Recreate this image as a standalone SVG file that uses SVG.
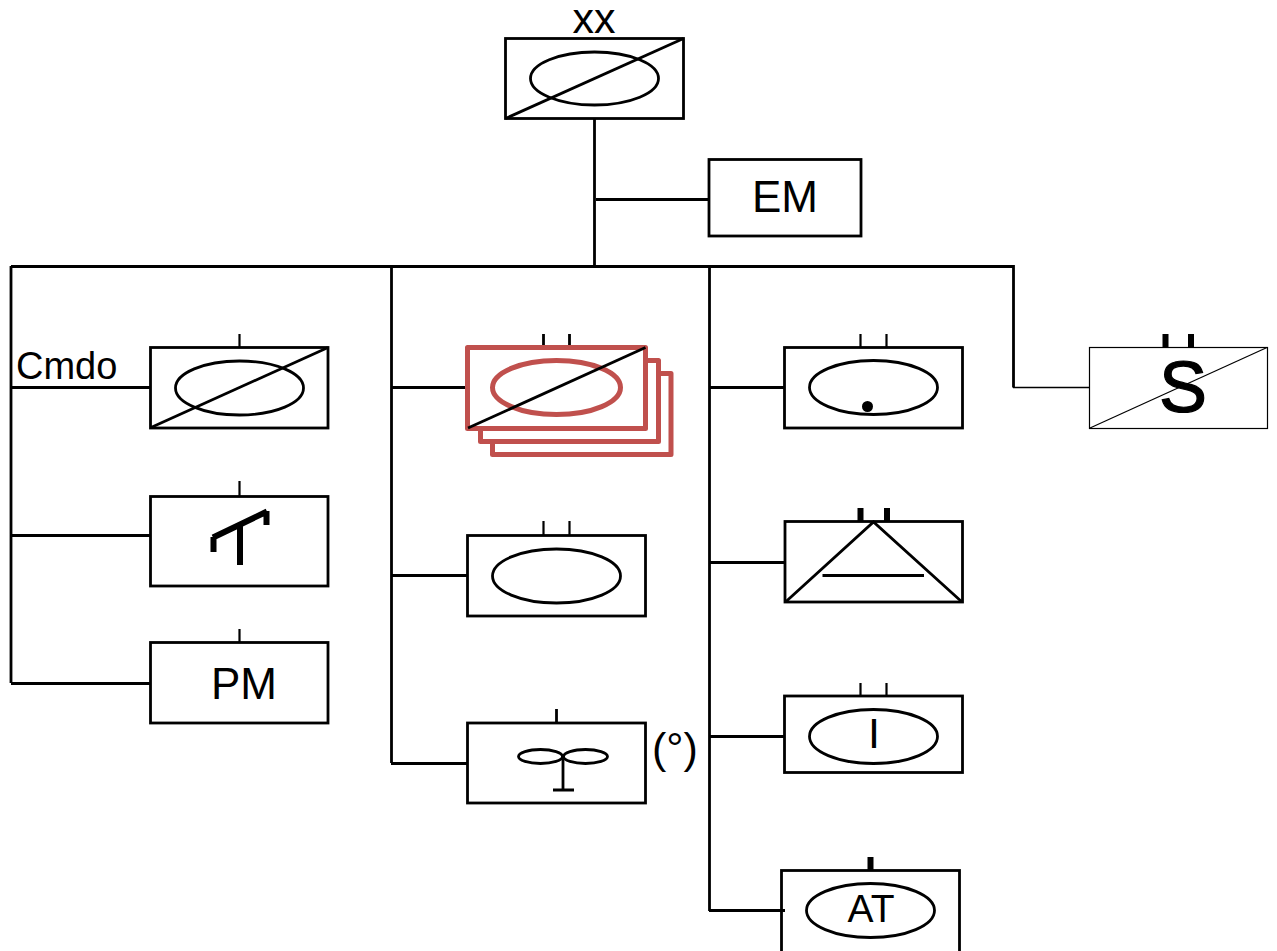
<svg xmlns="http://www.w3.org/2000/svg" width="1277" height="951" viewBox="0 0 1277 951">
<style>
.b{fill:#fff;stroke:#000;stroke-width:2.800}
.l{fill:none;stroke:#000;stroke-width:2.800}
.d{fill:none;stroke:#000;stroke-width:2.200}
.h{fill:none;stroke:#000;stroke-width:6}
.r{fill:#fff;stroke:#c0504d;stroke-width:5;stroke-linejoin:round}
.t{font-family:"Liberation Sans",Arial,sans-serif;fill:#000}
</style>
<rect width="1277" height="951" fill="#fff"/>
<g id="connectors">
<path class="l" d="M594.500 118V266M596 199.500H709M11 266.500H1013.500V387.500M11 266V683M391.500 266V763M709.500 266V911M11 387.500H151M11 535.500H151M11 683.500H151M391 387.500H468M391 575.500H468M391 763.500H468M709 387.500H785M709 562.500H785M709 736.500H785"/>
<path d="M1013 387.500H1090" fill="none" stroke="#000" stroke-width="1.500"/>
</g>
<g id="n-xx"><rect class="b" x="505.500" y="38.500" width="178" height="80"/><ellipse class="l" cx="594.500" cy="78.500" rx="64" ry="26.500"/><path class="l" d="M505.500 118.500L683.500 38.500"/><text class="t" x="594" y="33" font-size="43" text-anchor="middle">xx</text></g>
<g id="n-em"><rect class="b" x="709" y="159.500" width="152" height="76.500"/><text class="t" x="785" y="212" font-size="44" text-anchor="middle">EM</text></g>
<g id="n-cmdo"><path class="d" d="M239.500 334V347"/><rect class="b" x="150.500" y="347.500" width="177.500" height="80.500"/><ellipse class="l" cx="239.500" cy="388" rx="64" ry="27"/><path class="l" d="M151 427.500L328 347.500"/><text class="t" x="16" y="379" font-size="38">Cmdo</text></g>
<g id="n-t"><path class="d" d="M239.500 481V496"/><rect class="b" x="150.500" y="496.500" width="177.500" height="89.500"/><path class="h" d="M213 537.500L267 511.500M240 526V565M213.500 537V552M266.500 511V525"/></g>
<g id="n-pm"><path class="d" d="M239.500 629V642"/><rect class="b" x="150.500" y="642.500" width="177.500" height="80.500"/><text class="t" x="244" y="699" font-size="44" text-anchor="middle">PM</text></g>
<g id="n-stack"><path class="l" d="M543.500 334V347M569.500 334V347"/><rect class="r" x="492.500" y="373.500" width="178.500" height="81"/><rect class="r" x="480.500" y="360.500" width="178" height="81"/><rect class="r" x="467.500" y="347.500" width="178" height="81"/><ellipse fill="none" stroke="#c0504d" stroke-width="5" cx="556.500" cy="387.500" rx="64" ry="27"/><path d="M468 428L645.500 347.500" fill="none" stroke="#000" stroke-width="2.800"/></g>
<g id="n-oval"><path class="d" d="M543.500 521V535M569.500 521V535"/><rect class="b" x="467.500" y="535.500" width="178" height="80.500"/><ellipse class="l" cx="556.500" cy="576" rx="64" ry="27"/></g>
<g id="n-fan"><path class="l" d="M556.500 709V723"/><rect class="b" x="467.500" y="723" width="178" height="80"/><ellipse class="l" cx="540.500" cy="756.500" rx="22" ry="7"/><ellipse class="l" cx="585.500" cy="756.500" rx="22" ry="7"/><path class="l" d="M563 757V790M553 790H574"/><text class="t" x="652" y="763" font-size="43">(°)</text></g>
<g id="n-dot"><path class="d" d="M860.500 334V347M886.500 334V347"/><rect class="b" x="784.500" y="347.500" width="178" height="80.500"/><ellipse class="l" cx="873.500" cy="387.500" rx="64" ry="27"/><circle cx="867.500" cy="406.500" r="5.500" fill="#000"/></g>
<g id="n-tri"><path class="h" d="M860.500 508V521M887 508V521"/><rect class="b" x="785" y="521.500" width="177.500" height="80.500"/><path class="l" d="M785.500 602L873.500 522L962 602M822.500 575.500H924"/></g>
<g id="n-i"><path class="d" d="M860.500 683V696M886.500 683V696"/><rect class="b" x="784.500" y="696" width="178" height="76.500"/><ellipse class="l" cx="873.500" cy="736.500" rx="64" ry="27"/><text class="t" x="874" y="748" font-size="43" text-anchor="middle">I</text></g>
<g id="n-at"><path class="h" d="M870.500 857V870"/><rect class="b" x="781.500" y="870.500" width="178" height="83"/><path class="l" d="M709 910.500H785"/><ellipse class="l" cx="870.500" cy="910.500" rx="64" ry="27"/><text class="t" x="871" y="922" font-size="39" text-anchor="middle">AT</text></g>
<g id="n-s"><path class="h" d="M1165.500 334V347M1191 334V347"/><rect x="1089.500" y="347.500" width="178" height="81" fill="#fff" stroke="#000" stroke-width="1.200"/><text class="t" x="1183" y="412" font-size="72" text-anchor="middle" stroke="#000" stroke-width="1.200">S</text><path d="M1090 428L1267 347.500" fill="none" stroke="#000" stroke-width="1.200"/></g>
</svg>
